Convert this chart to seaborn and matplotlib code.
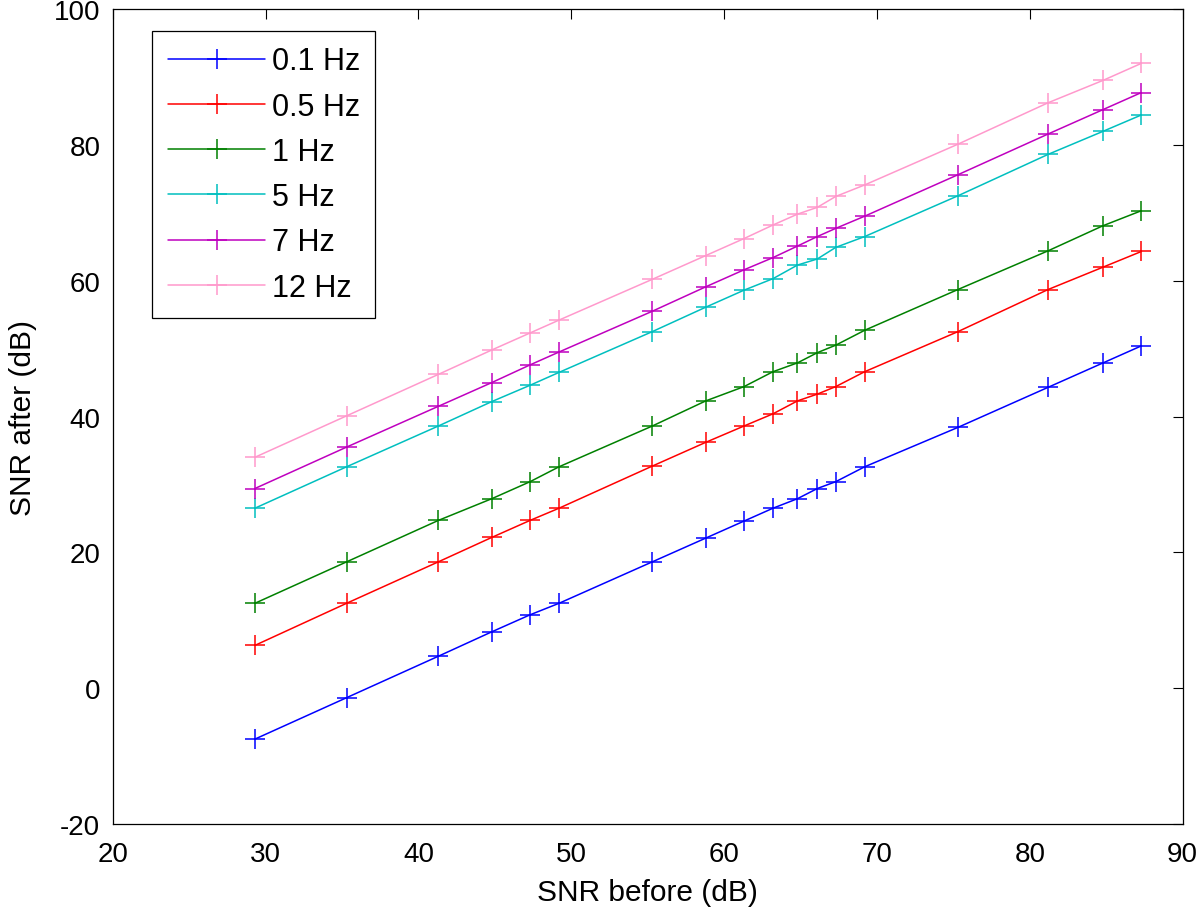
import matplotlib
matplotlib.use('Agg')
import matplotlib.pyplot as plt
import pandas as pd
import seaborn as sns

# SNR before (dB), shared by every series
snr_before = [29.3, 35.3, 41.3, 44.8, 47.3, 49.2, 55.3, 58.8, 61.3, 63.2,
              64.8, 66.1, 67.3, 69.2, 75.3, 81.2, 84.8, 87.3]

# SNR after (dB)
snr_01hz = [-7.5, -1.4, 4.7, 8.3, 10.8, 12.5, 18.6, 22.1, 24.6, 26.5,
            27.9, 29.4, 30.4, 32.6, 38.4, 44.3, 47.9, 50.4]
snr_05hz = [6.3, 12.5, 18.6, 22.2, 24.7, 26.5, 32.7, 36.2, 38.6, 40.4,
            42.3, 43.3, 44.4, 46.6, 52.5, 58.7, 62.0, 64.3]
snr_1hz = [12.5, 18.6, 24.7, 27.9, 30.4, 32.6, 38.6, 42.3, 44.4, 46.6,
           47.9, 49.4, 50.5, 52.7, 58.7, 64.4, 68.1, 70.3]
snr_5hz = [26.5, 32.6, 38.6, 42.2, 44.6, 46.5, 52.5, 56.1, 58.6, 60.3,
           62.3, 63.2, 64.9, 66.5, 72.5, 78.6, 82.0, 84.4]
snr_7hz = [29.4, 35.5, 41.5, 45.0, 47.6, 49.5, 55.5, 59.1, 61.6, 63.4,
           65.1, 66.5, 67.7, 69.5, 75.6, 81.6, 85.2, 87.7]
snr_12hz = [34.0, 40.1, 46.2, 49.8, 52.3, 54.2, 60.2, 63.7, 66.2, 68.2,
            69.8, 70.8, 72.4, 74.1, 80.1, 86.2, 89.5, 92.0]

labels = ['0.1 Hz', '0.5 Hz', '1 Hz', '5 Hz', '7 Hz', '12 Hz']
colors = ['#0000FF', '#FF0000', '#008000', '#00BFBF', '#BF00BF', '#FF99CC']

df = pd.DataFrame({'before': snr_before, '0.1 Hz': snr_01hz, '0.5 Hz': snr_05hz,
                   '1 Hz': snr_1hz, '5 Hz': snr_5hz, '7 Hz': snr_7hz, '12 Hz': snr_12hz})

sns.set_style('white')
plt.rcParams['font.family'] = ['Liberation Sans', 'DejaVu Sans']
plt.rcParams['axes.unicode_minus'] = False
plt.rcParams['text.color'] = 'black'
plt.rcParams['axes.labelcolor'] = 'black'

fig = plt.figure(figsize=(12, 9.12), dpi=100)
ax = fig.add_axes([0.094, 0.0954, 0.8915, 0.8936])

for lab, col in zip(labels, colors):
    sns.lineplot(data=df, x='before', y=lab, color=col, marker='+', markersize=15,
                 markeredgecolor=col, markeredgewidth=1.1, linewidth=1.1, label=lab, ax=ax)

ax.set_xlim(20, 90)
ax.set_ylim(-20, 100)
ax.set_xticks(range(20, 91, 10))
ax.set_yticks(range(-20, 101, 20))
ax.tick_params(direction='in', length=7, width=0.8, labelsize=20, top=True, right=True,
               pad=9, colors='black')
ax.tick_params(axis='x', pad=12)
for sp in ax.spines.values():
    sp.set_color('black')
    sp.set_linewidth(0.9)

ax.set_xlabel('SNR before (dB)', fontsize=21.5, labelpad=8)
ax.set_ylabel('SNR after (dB)', fontsize=21.5, labelpad=12)

leg = ax.legend(loc='upper left', bbox_to_anchor=(0.037, 0.973), borderaxespad=0,
                fontsize=22, fancybox=False, framealpha=1, edgecolor='black',
                handlelength=3.2, labelspacing=0.5, borderpad=0.5, handletextpad=0.2)
leg.get_frame().set_linewidth(0.9)

plt.savefig('out.png', dpi=100)
